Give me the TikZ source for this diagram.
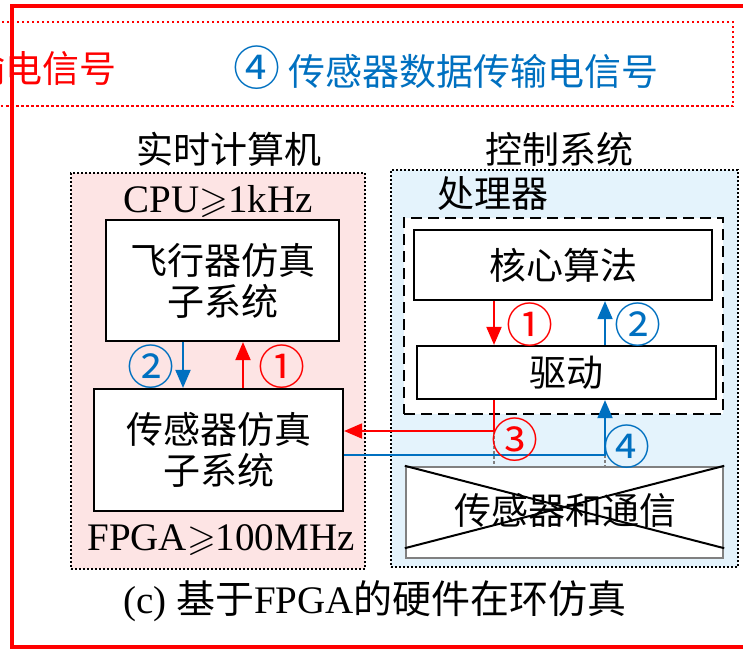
\documentclass[tikz,border=0pt]{standalone}
\usepackage{fontspec}
\usepackage{graphicx}
\usepackage{amssymb}
\setmainfont{Liberation Serif}
\newfontfamily\cjk{Noto Sans CJK SC}
\usetikzlibrary{arrows.meta,calc}
\definecolor{myred}{RGB}{255,0,0}
\definecolor{myblue}{RGB}{0,112,192}
\definecolor{pinkfill}{RGB}{253,228,228}
\definecolor{bluefill}{RGB}{228,243,252}
\definecolor{graybd}{RGB}{128,128,128}
\newcommand{\geqs}{\scalebox{3.7}{\fontsize{10}{12}\selectfont$\geqslant$}}
\tikzset{
  panel/.style={draw=black, line width=1.6pt, dash pattern=on 2pt off 2pt, inner sep=0pt},
  blk/.style={draw=black, line width=2.2pt, fill=white, inner sep=0pt, align=center,
    font=\cjk\fontsize{37}{41}\selectfont},
  cj/.style={font=\cjk\fontsize{37}{41}\selectfont, inner sep=0pt},
  lat/.style={font=\fontsize{39}{42}\selectfont, inner sep=0pt},
  num/.style={font=\cjk\fontsize{47}{48}\selectfont, inner sep=0pt},
  rarr/.style={draw=myred, line width=2pt, -{Triangle[length=18pt,width=15pt]}},
  barr/.style={draw=myblue, line width=2pt, -{Triangle[length=18pt,width=15pt]}},
  gdot/.style={draw=graybd, line width=1.6pt, dash pattern=on 3pt off 2pt},
}
\begin{document}
\begin{tikzpicture}[x=1pt,y=-1pt]
\useasboundingbox (0,0) rectangle (743,649);
% outer frames
\draw[myred, line width=4pt] (12,6) rectangle (790,647);
\draw[myred, line width=1.8pt, dash pattern=on 2.5pt off 2.5pt] (-20,22) rectangle (733,106);
\node[cj, text=myred, anchor=east] (redtxt) at (117,68) {输电信号};
\node[cj, text=myblue] (bluetxt) at (446,68) {{\fontsize{47}{41}\selectfont ④} 传感器数据传输电信号};
% titles
\node[cj] (rtc) at (229,149) {实时计算机};
\node[cj] (ctl) at (559,149) {控制系统};
% panels
\node[panel, fill=pinkfill, minimum width=294pt, minimum height=396pt] (lp) at (218,371) {};
\node[panel, fill=bluefill, minimum width=347pt, minimum height=397pt] (rp) at (564.5,368.5) {};
% left panel contents
\node[lat] (cpu) at (218,201) {CPU\geqs 1kHz};
\node[blk, minimum width=233pt, minimum height=121pt] (fly) at (222.5,280.5) {飞行器仿真\\子系统};
\node[blk, minimum width=249pt, minimum height=122pt] (ssim) at (218.5,450) {传感器仿真\\子系统};
\node[lat] (fpga) at (221,540) {FPGA\geqs 100MHz};
\coordinate (xl2) at (183,0);
\coordinate (xl1) at (243,0);
\draw[barr] (fly.south -| xl2) -- (ssim.north -| xl2);
\draw[rarr] (ssim.north -| xl1) -- (fly.south -| xl1);
\node[num, text=myblue] (l2) at (151,367) {②};
\node[num, text=myred] (l1) at (282,367) {①};
% right panel contents
\node[cj, anchor=west] (proc) at (437,193) {处理器};
\node[draw=black, line width=2.4pt, dash pattern=on 11pt off 6pt, fill=white, inner sep=0pt,
  minimum width=319pt, minimum height=196pt] (dash) at (563.5,316) {};
\node[blk, minimum width=298pt, minimum height=70pt] (core) at (563,265) {核心算法};
\node[blk, minimum width=299pt, minimum height=53pt] (drv) at (566.5,372.5) {驱动};
\coordinate (xr1) at (494,0);
\coordinate (xr2) at (605,0);
\coordinate (y3) at (0,431);
\coordinate (y4) at (0,455);
\draw[rarr] (core.south -| xr1) -- (drv.north -| xr1);
\draw[barr] (drv.north -| xr2) -- (core.south -| xr2);
\node[num, text=myred] (r1) at (530,325) {①};
\node[num, text=myblue] (r2) at (638,325) {②};
% crossed box
\node[draw=graybd, line width=2.4pt, fill=white, inner sep=0pt,
  minimum width=317pt, minimum height=91pt] (cross) at (564.5,512.5) {};
\node[cj] (sc) at (565,510) {传感器和通信};
\draw[black, line width=2pt] (cross.north west) -- ($(cross.south east)+(0,-11)$);
\draw[black, line width=2pt] ($(cross.south west)+(0,-11)$) -- (cross.north east);
% links between panels
\draw[gdot] (xr1 |- y3) -- (cross.north -| xr1);
\draw[gdot] (xr2 |- y4) -- (cross.north -| xr2);
\draw[rarr] (drv.south -| xr1) |- (ssim.east |- y3);
\draw[barr] (ssim.east |- y4) -| (drv.south -| xr2);
\node[num, text=myred] (r3) at (515,440) {③};
\node[num, text=myblue] (r4) at (627,447) {④};
% caption
\node[lat] (cap) at (375,601) {(c) {\cjk 基于}FPGA{\cjk 的硬件在环仿真}};
\end{tikzpicture}
\end{document}
